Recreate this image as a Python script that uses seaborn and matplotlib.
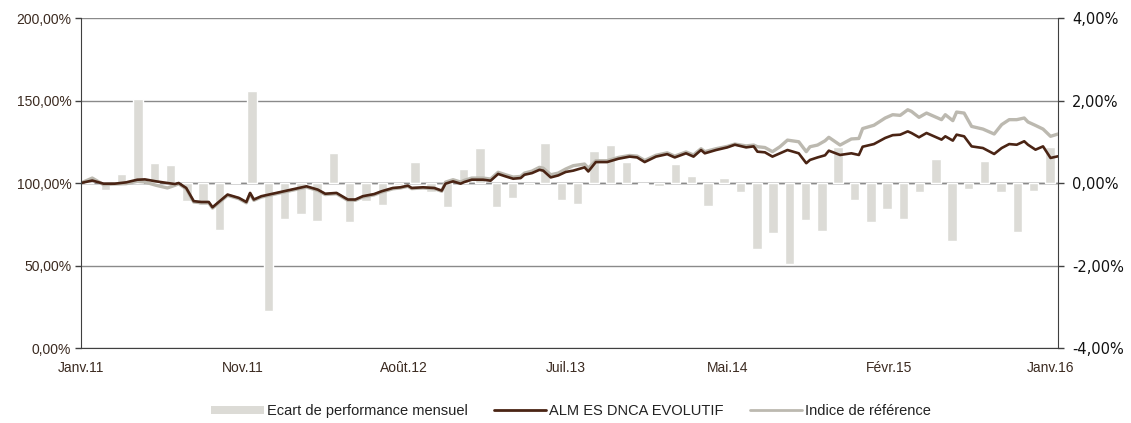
import numpy as np
import pandas as pd
import seaborn as sns
import matplotlib.pyplot as plt
from matplotlib.ticker import FuncFormatter
from matplotlib.patches import Patch
from matplotlib.lines import Line2D

sns.set_style('white')
plt.rcParams['font.family'] = ['Liberation Sans', 'DejaVu Sans']

# monthly performance gap (right axis, %)
ecart = [0.0, -0.16, 0.22, 2.04, 0.48, 0.44, -0.44, -0.53, -1.15, 0.02,
         2.22, -3.11, -0.87, -0.74, -0.91, 0.73, -0.95, -0.43, -0.54, -0.05,
         0.51, -0.22, -0.57, 0.33, 0.86, -0.57, -0.36, -0.05, 0.97, -0.40,
         -0.51, 0.77, 0.92, 0.51, -0.03, -0.08, 0.47, 0.17, -0.56, 0.12,
         -0.23, -1.61, -1.22, -1.96, -0.90, -1.17, 0.88, -0.40, -0.95, -0.63,
         -0.88, -0.23, 0.58, -1.41, -0.15, 0.53, -0.22, -1.18, -0.19, 0.87]
months = list(range(len(ecart)))

# weekly points (left axis, base 100)
weeks = [0, 3, 6, 9, 12, 15, 17, 20, 23, 25, 26, 28, 30, 32, 34, 35, 39, 42, 44, 45,
         46, 48, 50, 53, 56, 60, 63, 65, 68, 71, 73, 75, 78, 80, 83, 85, 87, 88, 91, 94,
         96, 97, 99, 101, 102, 104, 107, 109, 111, 113, 115, 117, 118, 120, 122, 123, 125, 127, 129, 131,
         134, 135, 137, 140, 143, 146, 148, 150, 153, 156, 158, 161, 163, 165, 166, 169, 172, 174, 177, 179,
         180, 182, 184, 186, 188, 191, 193, 194, 196, 198, 199, 202, 205, 207, 208, 211, 214, 216, 218, 220,
         221, 223, 225, 227, 229, 230, 232, 233, 235, 237, 240, 243, 245, 247, 249, 251, 252, 254, 256, 258,
         260]
fund = [100, 101.5, 99.6, 99.6, 100.4, 102, 102.2, 101, 100, 99.4, 100, 97, 89, 88.5, 88.5, 85.3, 93, 91, 88.5, 94,
        90, 92, 93, 94.5, 96, 98, 96, 93.5, 94, 90, 90, 92, 93.3, 95, 97, 97.4, 98.4, 97, 97.4, 97,
        95.4, 99.6, 101, 99.6, 100.6, 102, 102, 101.4, 105.5, 104, 102.6, 103, 105, 106, 108, 107.5, 103.4, 104.6, 106.7, 107.5,
        109.5, 107, 112.7, 112.7, 114.7, 116, 115.5, 112.7, 116, 117.5, 115.5, 118, 116, 120, 118, 120, 121.6, 123.2, 121.6, 122.2,
        119, 118.6, 116, 118, 120, 118, 112, 114, 115.5, 116.8, 119.6, 117, 118, 117, 122, 123.6, 127.3, 129, 129.3, 131.3,
        130.3, 127.7, 130.3, 128.3, 126.3, 128.3, 125.7, 129.3, 128.3, 122.2, 121.2, 117.6, 121.2, 123.6, 123.2, 125.3, 123.2, 120.2, 122.2, 115.2,
        116.2]
index_ref = [100, 103, 99, 99.4, 99.6, 101, 100.6, 98.6, 97, 98.6, 99.5, 96.5, 88.5, 88, 88, 84.8, 92.5, 90.5, 88, 93.5,
             89.5, 91.5, 92.5, 94, 95.5, 97.5, 95.5, 93, 93.5, 89.5, 89.5, 91.5, 92.8, 94.5, 96.5, 97, 98, 96.6, 97, 96.6,
             95, 100.5, 102, 100.6, 101.6, 103, 103, 102.4, 106.5, 105, 103.6, 104, 106, 107.2, 109.5, 109, 105, 106, 108.5, 110.5,
             111.5, 109, 113.5, 113.5, 115.5, 116.7, 116.3, 113.7, 116.8, 118.3, 116.3, 118.8, 117, 120.8, 119, 120.8, 122.2, 123.6, 122.5, 123,
             122, 121.5, 119, 122, 126, 125, 119, 122, 123, 125.6, 127.7, 123, 126.7, 127, 133, 135, 139.4, 141.4, 141, 144.4,
             143.4, 139.8, 142.4, 140.4, 138.4, 141.4, 137.8, 143, 142.4, 134.3, 132.7, 129.7, 135.4, 138.4, 138.4, 139.4, 137, 134.9, 132.7, 128.3,
             129.7]

tick_weeks = [0, 43, 86, 129, 172, 215, 258]
tick_labels = ['Janv.11', 'Nov.11', 'Août.12', 'Juil.13', 'Mai.14', 'Févr.15', 'Janv.16']

bar_color = '#dcdbd6'
fund_color = '#4a2414'
ref_color = '#bcb9b0'
grid_color = '#8a8a8a'

fig = plt.figure(figsize=(11.31, 4.23), dpi=100)
rect = [0.0716, 0.1773, 0.8639, 0.7801]

# bars on the secondary (right) axis, drawn underneath
ax_bar = fig.add_axes(rect)
sns.barplot(x=months, y=ecart, ax=ax_bar, color=bar_color, saturation=1, width=0.58)
ax_bar.set_xlim(-0.5, len(ecart) - 0.5)
ax_bar.set_ylim(-4, 4)
ax_bar.set_yticks([-4, -2, 0, 2, 4])
ax_bar.yaxis.set_major_formatter(FuncFormatter(lambda v, p: f'{v:.2f}%'.replace('.', ',')))
ax_bar.yaxis.tick_right()
ax_bar.set_xticks([])
ax_bar.set_xlabel('')
ax_bar.set_ylabel('')
ax_bar.grid(axis='y', color=grid_color, lw=1)
ax_bar.set_axisbelow(True)
ax_bar.axhline(0, color='#5a5a5a', lw=1, zorder=0.5)
for side in ['top', 'left', 'bottom']:
    ax_bar.spines[side].set_visible(False)
ax_bar.spines['right'].set_color('#404040')
ax_bar.tick_params(axis='y', which='both', right=True, direction='out', length=4, width=1,
                   colors='#404040', labelcolor='#111111', labelsize=10.5, pad=6)
for lbl in ax_bar.get_yticklabels():
    lbl.set_family('DejaVu Sans')

# lines on the primary (left) axis, on top
ax = fig.add_axes(rect)
ax.patch.set_alpha(0)
sns.lineplot(x=weeks, y=index_ref, ax=ax, color=ref_color, lw=2.4)
sns.lineplot(x=weeks, y=fund, ax=ax, color=fund_color, lw=1.9)
ax.set_xlim(0, 260)
ax.set_ylim(0, 200)
ax.set_yticks([0, 50, 100, 150, 200])
ax.yaxis.set_major_formatter(FuncFormatter(lambda v, p: f'{v:.2f}%'.replace('.', ',')))
ax.set_xticks(tick_weeks)
ax.set_xticklabels(tick_labels)
ax.set_xlabel('')
ax.set_ylabel('')
for side in ['top', 'right']:
    ax.spines[side].set_visible(False)
ax.spines['left'].set_color('#404040')
ax.spines['bottom'].set_color('#404040')
ax.tick_params(axis='y', left=True, direction='out', length=4, width=1, colors='#404040',
               labelcolor='#3b2a20', labelsize=10, pad=3)
ax.tick_params(axis='x', bottom=False, labelsize=10, labelcolor='#3b2a20', pad=6)

handles = [Patch(facecolor=bar_color, edgecolor='none'),
           Line2D([], [], color=fund_color, lw=2),
           Line2D([], [], color=ref_color, lw=2)]
labels = ['Ecart de performance mensuel', 'ALM ES DNCA EVOLUTIF', 'Indice de référence']
fig.legend(handles, labels, loc='center', bbox_to_anchor=(0.505, 0.028), ncol=3, frameon=False,
           fontsize=10.5, handlelength=3.6, handleheight=0.55, columnspacing=1.8, handletextpad=0.2,
           labelcolor='#222222')

fig.savefig('out.png', dpi=100)
